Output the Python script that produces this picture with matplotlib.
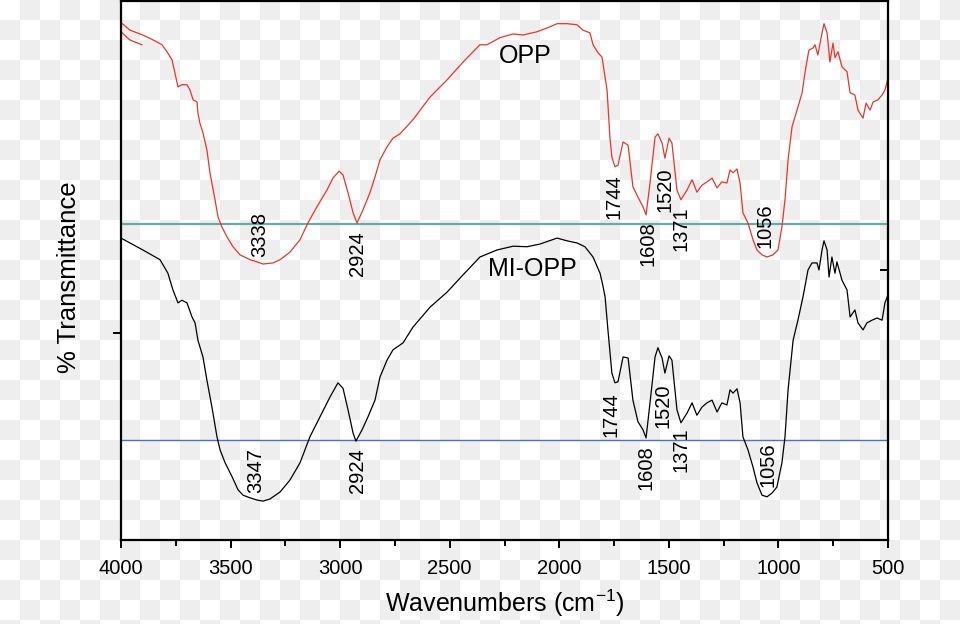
import numpy as np
import matplotlib
matplotlib.use('Agg')
from matplotlib import pyplot as plt
from matplotlib import font_manager

# FTIR spectra
opp_wn = [4000, 3959, 3900, 3854, 3813, 3790, 3767, 3754, 3740, 3722, 3699, 3685,
          3671, 3653, 3649, 3640, 3626, 3608, 3594, 3571, 3557, 3539, 3516, 3489,
          3457, 3411, 3379, 3352, 3306, 3274, 3229, 3183, 3147, 3106, 3060, 3033,
          3005, 2987, 2964, 2941, 2923, 2896, 2864, 2841, 2818, 2786, 2759, 2727,
          2668, 2590, 2512, 2439, 2362, 2330, 2271, 2211, 2166, 2102, 2056, 2010,
          1965, 1919, 1892, 1860, 1846, 1823, 1805, 1782, 1769, 1760, 1746, 1732,
          1709, 1686, 1664, 1641, 1618, 1604, 1586, 1563, 1550, 1531, 1518, 1499,
          1486, 1463, 1445, 1417, 1394, 1372, 1349, 1326, 1303, 1280, 1258, 1235,
          1221, 1207, 1189, 1175, 1162, 1139, 1116, 1098, 1075, 1052, 1025, 1002,
          984, 970, 956, 938, 915, 892, 879, 861, 842, 833, 820, 801, 792, 778,
          765, 751, 742, 728, 710, 687, 673, 651, 637, 614, 600, 582, 568, 546,
          527, 514, 500]
opp_t = [95.8, 94.4, 93.5, 92.6, 91.7, 90.4, 88.9, 86.5, 83.9, 84.3, 84.3, 83.3,
         81.5, 81.1, 79.1, 77.2, 75.4, 72.2, 68.0, 63.0, 59.8, 57.9, 56.1, 54.3,
         52.8, 51.9, 51.5, 51.1, 51.3, 51.9, 53.3, 55.6, 58.7, 61.7, 64.8, 67.0,
         68.3, 67.6, 64.3, 60.6, 58.7, 61.1, 64.3, 67.2, 70.4, 72.8, 74.4, 75.2,
         77.8, 82.0, 85.2, 88.5, 91.7, 91.7, 93.0, 93.7, 93.5, 94.1, 94.8, 95.6,
         95.6, 95.4, 94.4, 93.9, 91.7, 90.2, 89.4, 83.3, 74.6, 70.9, 69.1, 69.4,
         73.7, 73.1, 65.4, 63.5, 61.7, 60.2, 66.1, 74.6, 75.2, 73.5, 70.7, 74.4,
         73.5, 64.8, 63.0, 64.8, 66.7, 64.4, 65.7, 66.3, 67.0, 65.2, 66.3, 66.1,
         68.5, 68.0, 68.7, 66.1, 60.6, 58.7, 55.6, 53.7, 52.8, 52.4, 52.8, 53.7,
         58.0, 63.0, 70.4, 76.5, 79.6, 82.8, 86.5, 90.7, 91.1, 91.7, 89.8, 93.9,
         95.6, 93.9, 88.5, 92.0, 89.3, 90.4, 87.6, 86.7, 82.8, 82.4, 79.6, 78.1,
         80.9, 79.6, 81.1, 81.5, 82.4, 83.3, 85.6]
# stray overlapping piece at the start of the OPP trace
opp_tail_wn = [4000, 3960, 3905]
opp_tail_t = [94.1, 92.6, 91.7]

mi_wn = [4000, 3959, 3900, 3822, 3786, 3763, 3740, 3722, 3699, 3676, 3662, 3649,
         3626, 3608, 3585, 3562, 3548, 3525, 3493, 3466, 3443, 3411, 3379, 3352,
         3320, 3274, 3229, 3183, 3138, 3092, 3046, 3010, 2987, 2964, 2941, 2928,
         2900, 2873, 2841, 2818, 2786, 2759, 2713, 2668, 2590, 2512, 2439, 2362,
         2284, 2211, 2147, 2088, 2010, 1965, 1919, 1883, 1860, 1846, 1814, 1800,
         1791, 1778, 1760, 1746, 1732, 1709, 1686, 1664, 1641, 1618, 1604, 1586,
         1563, 1550, 1531, 1518, 1499, 1486, 1463, 1445, 1417, 1394, 1372, 1349,
         1326, 1303, 1280, 1258, 1235, 1221, 1207, 1189, 1175, 1162, 1139, 1116,
         1098, 1075, 1052, 1029, 1007, 984, 970, 956, 933, 911, 888, 865, 847,
         824, 815, 801, 792, 778, 769, 756, 742, 733, 710, 687, 673, 651, 637,
         614, 596, 573, 550, 527, 514, 500]
mi_t = [55.9, 55.0, 53.7, 51.9, 49.4, 46.3, 43.9, 44.4, 43.9, 41.3, 40.2, 37.0,
        33.9, 29.6, 24.6, 19.1, 16.7, 14.3, 11.7, 9.3, 8.3, 7.8, 7.4, 7.2,
        7.6, 8.9, 11.1, 14.3, 19.1, 22.8, 26.5, 29.1, 28.1, 24.1, 19.8, 18.3,
        20.4, 22.8, 25.9, 30.2, 33.3, 35.2, 36.5, 39.4, 43.1, 45.9, 49.1, 52.4,
        53.7, 54.4, 54.3, 54.8, 55.9, 55.4, 55.0, 54.3, 53.1, 52.4, 49.4, 46.9,
        45.0, 38.9, 30.9, 29.1, 29.3, 33.9, 33.7, 25.9, 21.9, 20.4, 18.9, 25.4,
        33.9, 35.6, 33.7, 30.9, 34.1, 33.3, 24.1, 21.7, 23.5, 25.4, 23.1, 24.6,
        25.4, 25.9, 23.7, 25.4, 25.0, 27.8, 27.2, 28.0, 25.4, 19.1, 16.7, 13.5,
        10.6, 8.3, 8.0, 8.7, 9.8, 14.3, 19.1, 27.8, 37.0, 40.7, 45.0, 50.0, 51.3,
        51.3, 50.0, 53.7, 55.4, 53.7, 48.7, 52.4, 49.4, 51.5, 48.1, 46.3, 41.3, 42.6, 40.2,
        38.9, 40.2, 40.7, 41.1, 40.7, 43.9, 45.4]

# baselines under each trace
opp_base = 58.5
mi_base = 18.5

# peak labels: text, wavenumber position, transmittance position
opp_peaks = ['3338', '2924', '1744', '1608', '1520', '1371', '1056']
opp_peak_x = [3366, 2919, 1750, 1595, 1518, 1445, 1061]
opp_peak_y = [56.6, 53.1, 63.6, 54.9, 64.8, 57.6, 58.2]
mi_peaks = ['3347', '2924', '1744', '1608', '1520', '1371', '1056']
mi_peak_x = [3384, 2919, 1764, 1604, 1527, 1445, 1048]
mi_peak_y = [12.9, 12.8, 23.3, 13.4, 24.9, 16.7, 13.9]

xticks = [4000, 3500, 3000, 2500, 2000, 1500, 1000, 500]

names = {f.name for f in font_manager.fontManager.ttflist}
main_font = 'Liberation Sans' if 'Liberation Sans' in names else 'DejaVu Sans'
plt.rcParams['font.family'] = [main_font, 'DejaVu Sans']
plt.rcParams['mathtext.default'] = 'regular'

fig = plt.figure(figsize=(9.6, 6.24), dpi=100)

# checkered backdrop like the reference
yy, xx = np.mgrid[0:624, 0:960]
checker = ((xx // 20 + yy // 20) % 2).astype(float)
bg = np.where(checker[..., None] > 0, 238 / 255., 1.0) * np.ones((1, 1, 3))
fig.figimage(bg, xo=0, yo=0, zorder=-10)

ax = fig.add_axes([121 / 960, 84 / 624, 767 / 960, 539 / 624])
ax.set_zorder(5)
ax.set_facecolor('none')
ax.set_xlim(4000, 500)
ax.set_ylim(0, 99.8)

ax.axhline(opp_base, color='#66aaaa', lw=1.6, zorder=1)
ax.axhline(mi_base, color='#4f6fc8', lw=1.0, zorder=1)
ax.plot(opp_wn, opp_t, color='#e8352c', lw=0.9, zorder=2)
ax.plot(opp_tail_wn, opp_tail_t, color='#e8352c', lw=0.9, zorder=2)
ax.plot(mi_wn, mi_t, color='black', lw=0.9, zorder=2)

for lab, x, y in zip(opp_peaks, opp_peak_x, opp_peak_y):
    ax.text(x, y, lab, rotation=90, ha='center', va='center', fontsize=14.5)
for lab, x, y in zip(mi_peaks, mi_peak_x, mi_peak_y):
    ax.text(x, y, lab, rotation=90, ha='center', va='center', fontsize=14.5)

ax.text(2156, 89.6, 'OPP', ha='center', va='center', fontsize=18)
ax.text(2125, 50.2, 'MI-OPP', ha='center', va='center', fontsize=18)

for s in ax.spines.values():
    s.set_linewidth(1.6)

ax.set_xticks(xticks)
ax.set_xticks(np.arange(500, 4001, 250), minor=True)
ax.tick_params(axis='x', which='major', length=6, width=1.4, direction='out',
               pad=8, labelsize=14.5)
ax.tick_params(axis='x', which='minor', length=4, width=1.4, direction='out')

ax.set_yticks([38.3])
ax.set_yticklabels([])
ax.tick_params(axis='y', length=6, width=1.4, direction='out')

ax2 = ax.twinx()
ax2.set_zorder(6)
ax2.set_facecolor('none')
ax2.set_ylim(0, 99.8)
ax2.set_yticks([50.0])
ax2.set_yticklabels([])
ax2.tick_params(axis='y', length=6, width=1.4, direction='in')
for s in ax2.spines.values():
    s.set_visible(False)

fig.text(505 / 960, 21 / 624, 'Wavenumbers (cm$^{-1}$)', ha='center', va='center',
         fontsize=18)
fig.text(69 / 960, 347 / 624, '% Transmittance', rotation=90, ha='center',
         va='center', fontsize=18.5)

plt.savefig('out.png', dpi=100)
plt.close()
